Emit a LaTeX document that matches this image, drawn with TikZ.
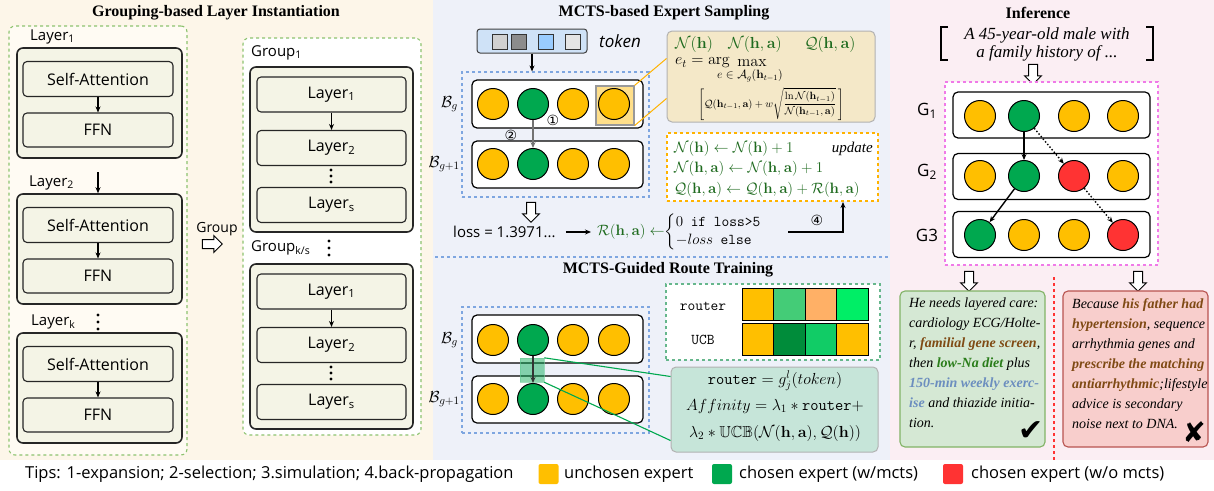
\RequirePackage{fix-cm}
\documentclass[tikz,border=0pt]{standalone}
\usepackage{amsmath,amssymb}
\usepackage[no-math]{fontspec}
\setmainfont{Liberation Serif}
\newfontfamily\hand{Open Sans}
\newfontfamily\symf{DejaVu Sans}
\usetikzlibrary{shapes.arrows,arrows.meta,calc}

\definecolor{bgL}{HTML}{FDF6E9}
\definecolor{bgLin}{HTML}{FFFBF3}
\definecolor{bgM}{HTML}{EEF1F9}
\definecolor{bgR}{HTML}{FBEEF3}
\definecolor{boxF}{HTML}{F4F4E6}
\definecolor{eY}{HTML}{FFBF00}
\definecolor{eG}{HTML}{00A84F}
\definecolor{eR}{HTML}{FF3333}
\definecolor{dGreen}{HTML}{8DC36F}
\definecolor{dBlue}{HTML}{7EA6E0}
\definecolor{dPink}{HTML}{F07AE8}
\definecolor{dOrange}{HTML}{FFB300}
\definecolor{fGreen}{HTML}{1F6B1F}
\definecolor{tBrown}{HTML}{7F4A14}
\definecolor{tGreen}{HTML}{2A7D1A}
\definecolor{tBlue}{HTML}{6C8EBF}
\definecolor{hlF}{HTML}{FFDF8A}
\definecolor{fmF}{HTML}{F4E8C8}
\definecolor{mintF}{HTML}{C6E5D9}
\definecolor{okF}{HTML}{D5E8D4}
\definecolor{okD}{HTML}{82B366}
\definecolor{noF}{HTML}{F8CECC}
\definecolor{noD}{HTML}{B85450}
\definecolor{cMid}{HTML}{44CC77}
\definecolor{cPeach}{HTML}{FFB066}
\definecolor{cLime}{HTML}{00EE66}
\definecolor{cDark}{HTML}{008C3A}
\definecolor{cGreen}{HTML}{11CC66}
\definecolor{tokF}{HTML}{CFE2F7}
\definecolor{tokB}{HTML}{99CCFF}

\newcommand\fh[1]{\hand\fontsize{#1}{#1}\selectfont}
\newcommand\fs[1]{\fontsize{#1}{#1}\selectfont}
% three stacked dots centred at the given point
\newcommand\vdotsat[1]{\foreach \dy in {-7,0,7} {\fill ($#1+(0,\dy)$) circle (1.7);}}

\tikzset{
  ttl/.style={font={\bfseries\fs{16}}},
  outerbox/.style={draw=black!85, line width=1.6, rounded corners=6, fill=boxF},
  innerbox/.style={draw=black!85, line width=1.1, rounded corners=4, fill=boxF, font={\fh{16}}},
  lbl/.style={font={\fh{15}}, anchor=west, inner sep=0},
  gdash/.style={draw=dGreen, dashed, line width=1.1, rounded corners=6},
  bdash/.style={draw=dBlue, dashed, line width=1.1},
  rowbox/.style={draw, line width=1.2, rounded corners=5, fill=white},
  expert/.style={circle, draw, line width=1, minimum size=31, inner sep=0},
  harrow/.style={single arrow, draw, line width=1, fill=white, minimum height=20,
                 inner sep=4, single arrow head extend=4},
  tsq/.style={draw=black!80, line width=0.9, minimum size=15, inner sep=0},
  cell/.style={draw, line width=1, minimum width=31.5, minimum height=32, inner sep=0},
  tagnum/.style={font={\symf\fs{14}}, inner sep=0},
  story/.style={align=left, anchor=north west, inner sep=0, font={\itshape\fontsize{14}{20}\selectfont}},
  legsq/.style={rounded corners=2, minimum size=20, inner sep=0},
  legtxt/.style={font={\fh{16.5}}, anchor=west, inner sep=0},
}

\begin{document}
\begin{tikzpicture}[x=1pt,y=-1pt, >={Stealth[length=6pt,width=5pt]}]
\useasboundingbox (0,0) rectangle (1214,490);
\fill[white] (0,0) rectangle (1214,490);
\fill[bgL] (0,0) rectangle (433,460);
\fill[bgM] (433,0) rectangle (890,460);
\fill[bgR] (890,0) rectangle (1214,460);

% ---------------- left: layer stack ----------------
\node[ttl] (tA) at (216,13) {Grouping-based Layer Instantiation};
\node[gdash, fill=bgLin, minimum width=178, minimum height=429] (ldash) at (98,240.5) {};

\foreach \i/\T in {1/48, 2/194, 3/333} {
  \node[outerbox, minimum width=165, minimum height=110] (L\i) at (99.5,\T+55) {};
  \node[innerbox, minimum width=150, minimum height=35] (SA\i) at (98,\T+31) {Self-Attention};
  \node[innerbox, minimum width=150, minimum height=34] (FF\i) at (98,\T+82) {FFN};
  \draw[->, line width=1.1] (SA\i) -- (FF\i);
}
\node[lbl] (ly1) at (30,37) {Layer\textsubscript{1}};
\node[lbl] (ly2) at (29,183) {Layer\textsubscript{2}};
\node[lbl] (lyk) at (31,322) {Layer\textsubscript{k}};
\coordinate (a12) at (98,172);
\draw[->, line width=1.2] (a12) -- (L2.north -| a12);
\vdotsat{(98,322)}

\node[font={\fh{14}}, inner sep=0] (grp) at (217,229) {Group};
\node[harrow] (garr) at (210,244) {};

% ---------------- grouped stack ----------------
\node[gdash, fill=white, minimum width=178, minimum height=397] (gdsh) at (332,236.5) {};
\foreach \j/\C in {1/149.5, 2/346.5} {
  \node[outerbox, minimum width=163, minimum height=165] (G\j) at (331.5,\C) {};
  \node[innerbox, minimum width=149, minimum height=35] (GL\j a) at (331.5,\C-55) {Layer\textsubscript{1}};
  \node[innerbox, minimum width=149, minimum height=35] (GL\j b) at (331.5,\C-1.5) {Layer\textsubscript{2}};
  \node[innerbox, minimum width=149, minimum height=35] (GL\j c) at (331.5,\C+55.5) {Layer\textsubscript{s}};
  \draw[->, line width=1.1] (GL\j a) -- (GL\j b);
  \foreach \dy in {-6,0,6} {\fill (331,\C+26.5+\dy) circle (1.6);}
}
\node[lbl] (gl1) at (251,53) {Group\textsubscript{1}};
\node[lbl] (glk) at (251,248) {Group\textsubscript{k/s}};
\vdotsat{(329,248)}

% ---------------- MCTS-based expert sampling ----------------
\node[ttl] (tB) at (664,13) {MCTS-based Expert Sampling};
\node[draw=black!75, line width=1, rounded corners=3, fill=tokF, minimum width=110, minimum height=24] (tok) at (532,41) {};
\node[tsq, fill=black!18] (q1) at (499.5,41.5) {};
\node[tsq, fill=black!45] (q2) at (519,41.5) {};
\node[tsq, fill=tokB] (q3) at (546,41.5) {};
\node[tsq, fill=black!10] (q4) at (573,41.5) {};
\node[font={\hand\itshape\fs{17}}, anchor=west, inner sep=0] (tokt) at (599,41) {token};

\node[bdash, minimum width=187, minimum height=125] (sbox) at (555.5,134.5) {};
\draw[->, line width=1.1] (tok.south) -- (tok.south |- sbox.north);
\node[rowbox, minimum width=171, minimum height=48] (sr1) at (557.5,104) {};
\node[rowbox, minimum width=171, minimum height=47] (sr2) at (557.5,164.5) {};
\node[draw=black!40, line width=1.2, fill=hlF, minimum width=38, minimum height=39] (hl) at (615,105.5) {};
\foreach \k/\x/\c in {1/493/eY, 2/533/eG, 3/573/eY, 4/614/eY} {
  \node[expert, fill=\c] (s1\k) at (\x,104) {};
  \node[expert, fill=\c] (s2\k) at (\x,164) {};
}
\draw[->, line width=1.6, black!55] (s12) -- (s22);
\node[tagnum] (m1) at (553,120) {①};
\node[tagnum] (m2) at (511,135) {②};
\node[font={\fs{16}}, anchor=east, inner sep=0] (bg1) at (458,104) {$\mathcal{B}_g$};
\node[font={\fs{16}}, anchor=east, inner sep=0] (bg2) at (460,164) {$\mathcal{B}_{g+1}$};

% formula panel
\node[draw=black!30, line width=1, rounded corners=5, fill=fmF, minimum width=208, minimum height=91] (fbox) at (771,76.5) {};
\draw[dOrange, line width=1] (hl.north east) -- ([yshift=18]fbox.west);
\draw[dOrange, line width=1] (hl.south east) -- ([yshift=-22]fbox.west);
\node[font={\fs{16}}, text=fGreen] (fa) at (694,44) {$\mathcal{N}(\mathbf{h})$};
\node[font={\fs{16}}, text=fGreen] (fb) at (755,44) {$\mathcal{N}(\mathbf{h},\mathbf{a})$};
\node[font={\fs{16}}, text=fGreen] (fc) at (830,44) {$\mathcal{Q}(\mathbf{h},\mathbf{a})$};
\node[font={\fs{16}}, anchor=west, inner sep=0] (fe) at (675,63) {$e_t=\arg$};
\node[font={\fs{16}}, inner sep=0] (fmax) at (752,63) {$\max$};
\node[font={\fs{12}}, inner sep=0] (fsub) at (750,76) {$e\in\mathcal{A}_g(\mathbf{h}_{t-1})$};
\node[font={\fs{10.5}}, inner sep=0] (fbr) at (771,104) {$\left[\mathcal{Q}(\mathbf{h}_{t-1},\mathbf{a})+w\sqrt{\dfrac{\ln\mathcal{N}(\mathbf{h}_{t-1})}{\mathcal{N}(\mathbf{h}_{t-1},\mathbf{a})}}\,\right]$};

% update panel
\node[draw=dOrange, dashed, line width=1.1, fill=white, minimum width=211, minimum height=68] (upd) at (772.5,167) {};
\node[font={\fs{15}}, text=fGreen, anchor=west, inner sep=0] (u1) at (674,149) {$\mathcal{N}(\mathbf{h})\leftarrow\mathcal{N}(\mathbf{h})+1$};
\node[font={\fs{15}}, text=fGreen, anchor=west, inner sep=0] (u2) at (674,169) {$\mathcal{N}(\mathbf{h},\mathbf{a})\leftarrow\mathcal{N}(\mathbf{h},\mathbf{a})+1$};
\node[font={\fs{15}}, text=fGreen, anchor=west, inner sep=0] (u3) at (674,190) {$\mathcal{Q}(\mathbf{h},\mathbf{a})\leftarrow\mathcal{Q}(\mathbf{h},\mathbf{a})+\mathcal{R}(\mathbf{h},\mathbf{a})$};
\node[font={\itshape\fs{15}}, anchor=east, inner sep=0] (ut) at (873,149) {update};

% loss and reward
\node[harrow, shape border rotate=270] (sarr) at (531,210) {};
\node[font={\fh{15}}, anchor=west, inner sep=0] (loss) at (453,232) {loss = 1.3971...};
\node[font={\fs{15}}, anchor=west, inner sep=0] (rw) at (597,232) {\color{fGreen}$\mathcal{R}(\mathbf{h},\mathbf{a})\leftarrow$\color{black}$\begin{cases}0\ \ \texttt{if loss>5}\\ -loss\ \ \texttt{else}\end{cases}$};
\draw[->, line width=1.1] ([xshift=10]loss.east) -- ([xshift=-6]rw.west);
\coordinate (p4) at (788,232);
\coordinate (u4) at (843,202);
\draw[->, line width=1.3] (p4) -| (u4);
\node[tagnum] (m4) at (817,220) {④};

\draw[bdash] (435,257) -- (890,257);

% ---------------- MCTS-guided route training ----------------
\node[ttl] (tC) at (668,270) {MCTS-Guided Route Training};
\node[bdash, minimum width=187, minimum height=126] (tbox) at (555.5,370) {};
\node[rowbox, minimum width=171, minimum height=48] (tr1) at (557.5,339) {};
\node[rowbox, minimum width=171, minimum height=47] (tr2) at (557.5,399.5) {};
\foreach \k/\x/\c in {1/493/eY, 2/533/eG, 3/573/eY, 4/614/eY} {
  \node[expert, fill=\c] (t1\k) at (\x,340) {};
  \node[expert, fill=\c] (t2\k) at (\x,399) {};
}
\node[fill=eG, fill opacity=0.45, draw=eG!60, draw opacity=0.6, minimum size=24, inner sep=0] (gsq) at (532,370) {};
\draw[->, line width=1.6, black!80] (t12) -- (t22);
\node[font={\fs{16}}, anchor=east, inner sep=0] (bg3) at (458,340) {$\mathcal{B}_g$};
\node[font={\fs{16}}, anchor=east, inner sep=0] (bg4) at (460,399) {$\mathcal{B}_{g+1}$};

\node[draw=eG!80!black!60, dashed, line width=1.2, fill=white, minimum width=214, minimum height=76] (rbox) at (773,322) {};
\node[font={\ttfamily\fs{15}}] (rt) at (703,306) {router};
\node[font={\ttfamily\fs{15}}] (ut2) at (703,340) {UCB};
\node[cell, fill=eY] (r1) at (757.75,304.5) {};
\node[cell, fill=cMid] (r2) at (789.25,304.5) {};
\node[cell, fill=cPeach] (r3) at (820.75,304.5) {};
\node[cell, fill=cLime] (r4) at (852.25,304.5) {};
\node[cell, fill=eY] (c1) at (757.75,339) {};
\node[cell, fill=cDark] (c2) at (789.25,339) {};
\node[cell, fill=cGreen] (c3) at (820.75,339) {};
\node[cell, fill=eY] (c4) at (852.25,339) {};

\node[draw=black!30, line width=1, rounded corners=5, fill=mintF, minimum width=207, minimum height=85] (abox) at (774.5,409.5) {};
\draw[eG, line width=1.1] (gsq.north east) -- ([yshift=33]abox.west);
\draw[eG, line width=1.1] (gsq.south east) -- ([yshift=-31]abox.west);
\node[font={\fs{16}}, inner sep=1] (a1) at (775,381) {$\texttt{router}=g_j^l(token)$};
\node[font={\fs{16}}, inner sep=1] (a2) at (775,406) {$Affinity=\lambda_1*\texttt{router}+$};
\node[font={\fs{16}}, inner sep=1] (a3) at (775,433) {$\lambda_2*\mathbb{UCB}(\mathcal{N}(\mathbf{h},\mathbf{a}),\mathcal{Q}(\mathbf{h}))$};

% ---------------- inference ----------------
\node[ttl] (tD) at (1038,13) {Inference};
\node[font={\itshape\fontsize{17}{18}\selectfont}, align=center, inner sep=0] (qq) at (1047,44) {A 45-year-old male with\\a family history of ...};
\draw[line width=1.8] (948,27) -- (941,27) -- (941,60) -- (948,60);
\draw[line width=1.8] (1146,27) -- (1153,27) -- (1153,60) -- (1146,60);
\node[harrow, shape border rotate=270] (iarr) at (1033,72) {};

\node[draw=dPink, dashed, line width=1.1, fill=white, minimum width=213, minimum height=183] (ibox) at (1051.5,173.5) {};
\foreach \r/\RY in {1/115, 2/176.5, 3/234.5} {
  \node[rowbox, minimum width=197, minimum height=46] (ir\r) at (1051.5,\RY) {};
}
\foreach \k/\x/\ca/\cb/\cc in {1/980/eY/eY/eG, 2/1024/eG/eG/eY, 3/1074/eY/eR/eY, 4/1123/eY/eY/eR} {
  \node[expert, fill=\ca] (i1\k) at (\x,116) {};
  \node[expert, fill=\cb] (i2\k) at (\x,176) {};
  \node[expert, fill=\cc] (i3\k) at (\x,235) {};
}
\draw[->, line width=1.4] (i12) -- (i22);
\draw[->, line width=1.4] (i22) -- (i31);
\draw[->, line width=1.4, dotted] (i12) -- (i23);
\draw[->, line width=1.4, dotted] (i23) -- (i34);
\node[font={\fh{17}}] (g1) at (927,111) {G\textsubscript{1}};
\node[font={\fh{17}}] (g2) at (927,172) {G\textsubscript{2}};
\node[font={\fh{17}}] (g3) at (927,235) {G3};

\node[harrow, shape border rotate=270] (oa1) at (969,279) {};
\node[harrow, shape border rotate=270] (oa2) at (1138,279) {};
\draw[eR, dashed, line width=1.1] (1054,277) -- (1054,460);

\node[draw=okD, line width=1.1, rounded corners=5, fill=okF, minimum width=145, minimum height=156] (okbox) at (972.5,369) {};
\node[draw=noD, line width=1.1, rounded corners=5, fill=noF, minimum width=145, minimum height=156] (nobox) at (1135.5,369) {};
\node[story] (oktxt) at (909,298) {He needs layered care:\\cardiology ECG/Holte-\\r, \textbf{\color{tBrown}familial gene screen},\\then \textbf{\color{tGreen}low-Na diet} plus\\\textbf{\color{tBlue}150-min weekly exerc-}\\\textbf{\color{tBlue}ise} and thiazide initia-\\tion.};
\node[story] (notxt) at (1072,298) {Because \textbf{\color{tBrown}his father had}\\\textbf{\color{tBrown}hypertension}, sequence\\arrhythmia genes and\\\textbf{\color{tBrown}prescribe the matching}\\\textbf{\color{tBrown}antiarrhythmic};lifestyle\\advice is secondary\\noise next to DNA.};
\node[font={\symf\fs{30}}, inner sep=0] (chk) at (1031,431) {✔};
\node[font={\symf\fs{28}}, inner sep=0] (crs) at (1194,432) {✘};

% ---------------- legend ----------------
\node[legtxt] (tips) at (25,474) {Tips: 1-expansion; 2-selection; 3.simulation; 4.back-propagation};
\node[legsq, fill=eY] (ly) at (548.5,474) {};
\node[legtxt] (lyt) at (564,474) {unchosen expert};
\node[legsq, fill=eG] (lg) at (722,474) {};
\node[legtxt] (lgt) at (739,474) {chosen expert (w/mcts)};
\node[legsq, fill=eR] (lr) at (953,474) {};
\node[legtxt] (lrt) at (971,474) {chosen expert (w/o mcts)};
\end{tikzpicture}
\end{document}
